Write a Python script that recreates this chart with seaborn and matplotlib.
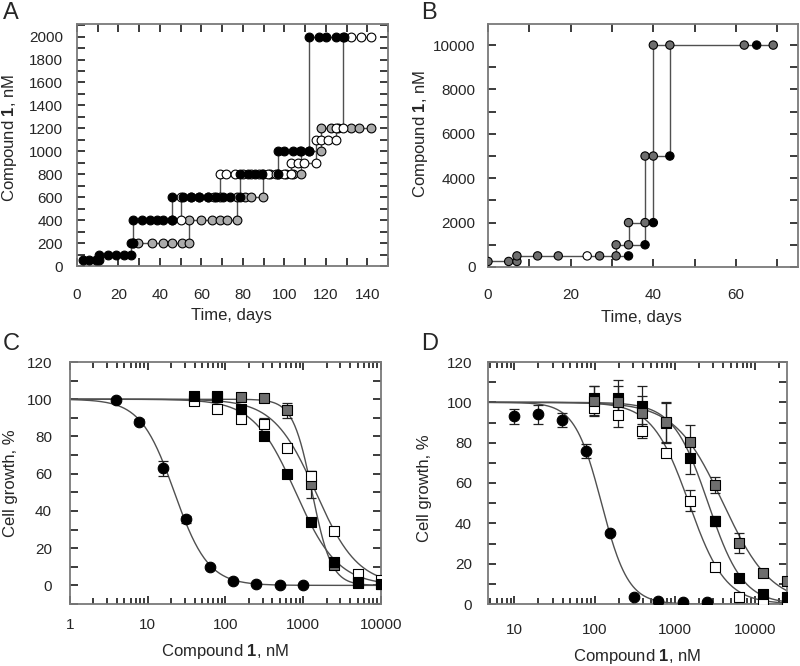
import numpy as np
import matplotlib
matplotlib.use("Agg")
import matplotlib.pyplot as plt
import matplotlib.ticker as mticker
import seaborn as sns

# ------------------------------------------------------------------ #
# Panel A: dose escalation, three cultures (black / white / grey)
# ------------------------------------------------------------------ #
A_black_days = [3, 6, 9, 10.5, 10.5, 15, 19, 22.5, 26, 26, 27, 27, 31.5, 35, 38.5,
                41.5, 46, 46, 51, 55, 59, 63, 67, 70.5, 74, 78.5, 78.5, 82.5, 86,
                89, 97, 97, 100, 104, 107.5, 112, 112, 116.5, 120, 125, 129]
A_black_vals = [50, 50, 50, 50, 100, 100, 100, 100, 100, 200, 200, 400, 400, 400, 400,
                400, 400, 600, 600, 600, 600, 600, 600, 600, 600, 600, 800, 800, 800,
                800, 800, 1000, 1000, 1000, 1000, 1000, 2000, 2000, 2000, 2000, 2000]

A_white_days = [46, 50, 50, 55, 59, 63, 66, 68.8, 68.8, 72, 76, 80, 84, 88, 92, 96,
                100, 103.4, 103.4, 106.5, 109.7, 115.4, 115.4, 117.8, 121, 125, 125,
                128.5, 128.5, 132.2, 137.1, 141.9]
A_white_vals = [400, 400, 600, 600, 600, 600, 600, 600, 800, 800, 800, 800, 800, 800,
                800, 800, 800, 800, 900, 900, 900, 900, 1100, 1100, 1100, 1100, 1200,
                1200, 2000, 2000, 2000, 2000]

A_grey_days = [27, 29.5, 36, 41.5, 46, 50.5, 54, 54, 60, 65, 69, 72.5, 77, 77, 81, 84,
               89.7, 89.7, 93, 97, 101, 104, 108, 108, 112, 117.8, 117.8, 122.6, 126,
               132, 136, 142]
A_grey_vals = [200, 200, 200, 200, 200, 200, 200, 400, 400, 400, 400, 400, 400, 600,
               600, 600, 600, 800, 800, 800, 800, 800, 800, 1000, 1000, 1000, 1200,
               1200, 1200, 1200, 1200, 1200]

# ------------------------------------------------------------------ #
# Panel B: dose escalation, branching lineages
# ------------------------------------------------------------------ #
B_branch_days = [
    [0, 5, 7, 7, 12, 17, 24, 27, 31, 34],
    [31, 31, 34, 38],
    [34, 34, 38, 40],
    [38, 38, 38, 40, 44],
    [40, 40, 40, 44, 62, 65, 69],
    [44, 44],
]
B_branch_vals = [
    [250, 250, 250, 500, 500, 500, 500, 500, 500, 500],
    [500, 1000, 1000, 1000],
    [1000, 2000, 2000, 2000],
    [1000, 2000, 5000, 5000, 5000],
    [2000, 5000, 10000, 10000, 10000, 10000, 10000],
    [5000, 10000],
]
B_pt_days = [0, 5, 7, 7, 12, 17, 24, 27, 31, 31, 34, 34, 34, 38, 38, 38, 40, 40, 40,
             44, 44, 62, 65, 69]
B_pt_vals = [250, 250, 250, 500, 500, 500, 500, 500, 500, 1000, 500, 1000, 2000, 1000,
             2000, 5000, 5000, 2000, 10000, 5000, 10000, 10000, 10000, 10000]
B_pt_kind = ["g", "g", "g", "g", "g", "g", "w", "g", "g", "g", "k", "g", "g", "k",
             "g", "g", "g", "k", "g", "k", "g", "g", "k", "g"]

# ------------------------------------------------------------------ #
# Panel C: cell growth vs compound 1 (nM)
# ------------------------------------------------------------------ #
C_circ_conc = [3.9, 7.8, 15.6, 31.25, 62.5, 125, 250, 500, 1000]
C_circ_val = [99.5, 88, 63, 35.5, 10, 2.2, 0.8, 0.4, 0.3]
C_circ_err = [1, 1.5, 4, 2, 1, 0.5, 0.3, 0.3, 0.3]

C_sq_conc = [39, 78, 156, 312, 625, 1250, 2500, 5000, 10000]
C_blk_val = [102, 102, 94.5, 80.5, 59.6, 34.2, 12.7, 1.8, 0.5]
C_blk_err = [1.5, 1.5, 1.5, 1.5, 1.5, 1.5, 2, 1, 0.5]
C_wht_val = [99.3, 94.8, 89.4, 86.8, 73.9, 58.7, 29.2, 5.9, 3]
C_wht_err = [1, 1.5, 1.5, 3, 1.5, 3, 1.5, 1, 0.5]
C_gry_val = [100, 101, 101, 100.4, 94.1, 54.2, 10.7, 1.4, 0.5]
C_gry_err = [0, 0, 1, 1, 4, 7.5, 2, 1, 0.5]

# fitted curves (IC50 nM, Hill slope)
C_fit = {"circ": (22, 2.0), "blk": (800, 1.6), "wht": (1450, 1.6), "gry": (1300, 3.5)}

# ------------------------------------------------------------------ #
# Panel D
# ------------------------------------------------------------------ #
D_circ_conc = [9.77, 19.5, 39, 78, 156, 312, 625, 1250, 2500]
D_circ_val = [93, 94, 91.2, 75.8, 35.1, 3.5, 1.5, 1.0, 0.8]
D_circ_err = [3.5, 4.5, 3.5, 3.5, 1, 0.5, 0.3, 0.3, 0.3]

D_sq_conc = [97.7, 195, 390, 781, 1562, 3125, 6250, 12500, 25000]
D_blk_val = [102, 102, 98.2, 89.6, 72.2, 41.2, 13.1, 5, 3.5]
D_blk_err = [6, 9, 10, 10, 7.5, 2.5, 1.5, 1, 1]
D_gry_val = [100.9, 100, 94.9, 90.1, 80.5, 59, 30.1, 15.2, 11.5]
D_gry_err = [7, 8, 8, 10, 8.5, 4, 5, 2, 1.5]
D_wht_val = [97.2, 93.9, 85.6, 74.9, 51.3, 18.2, 3.3, 1.8, 1.5]
D_wht_err = [4, 6, 3.5, 1.5, 5, 1.5, 1, 0.5, 0.5]

D_fit = {"circ": (122, 2.6), "blk": (2600, 2.0), "wht": (1500, 1.9), "gry": (4000, 1.45)}

# ------------------------------------------------------------------ #
GREY_A = "#ababab"
GREY_D = "#6e6e6e"
LINE = "#505050"
SPINE = "#7a7a7a"

sns.set_theme(style="ticks")
plt.rcParams.update({
    "font.family": ["Liberation Sans", "DejaVu Sans"],
    "font.size": 11,
    "mathtext.fontset": "custom",
    "mathtext.rm": "Liberation Sans",
    "mathtext.bf": "Liberation Sans:bold",
    "axes.labelsize": 12,
    "xtick.labelsize": 11,
    "ytick.labelsize": 11,
})


def hill(x, ic50, h, top=100.0):
    return top / (1.0 + (x / ic50) ** h)


def style_axes(ax, xpad, ypad):
    for s in ax.spines.values():
        s.set_color(SPINE)
        s.set_linewidth(1.3)
    ax.tick_params(which="both", direction="in", top=True, right=True,
                   color="#1a1a1a", width=1.2, length=6)
    ax.tick_params(axis="x", which="both", pad=xpad)
    ax.tick_params(axis="y", which="both", pad=ypad)


def place_labels(ax, xl, yl):
    ax.xaxis.set_label_coords(*xl)
    ax.yaxis.set_label_coords(*yl)


def steps(ax, days, vals, fill, size=40):
    sns.lineplot(x=days, y=vals, sort=False, estimator=None, color=LINE,
                 linewidth=1, ax=ax, zorder=2)
    sns.scatterplot(x=days, y=vals, color=fill, edgecolor="black", linewidth=0.8,
                    s=size, ax=ax, zorder=3)


def dose_series(ax, conc, vals, err, fill, marker, size):
    ax.errorbar(conc, vals, yerr=err, fmt="none", ecolor="#222222", elinewidth=0.9,
                capsize=3.5, capthick=0.9, zorder=3)
    sns.scatterplot(x=conc, y=vals, color=fill, marker=marker, edgecolor="black",
                    linewidth=0.8, s=size, ax=ax, zorder=4)


def fit_curve(ax, x0, x1, ic50, h):
    xs = np.logspace(np.log10(x0), np.log10(x1), 300)
    sns.lineplot(x=xs, y=hill(xs, ic50, h), color=LINE, linewidth=1, ax=ax, zorder=2)


fig = plt.figure(figsize=(8, 6.66), dpi=100)
W, H = 800, 666
axA = fig.add_axes([77 / W, 1 - 266 / H, 311 / W, 242 / H])
axB = fig.add_axes([488 / W, 1 - 267 / H, 310 / W, 243 / H])
axC = fig.add_axes([70 / W, 1 - 604 / H, 311 / W, 242 / H])
axD = fig.add_axes([488 / W, 1 - 604 / H, 299 / W, 242 / H])

ylab = r"Compound $\mathbf{1}$, nM"

# ---- A ----
steps(axA, A_grey_days, A_grey_vals, GREY_A)
steps(axA, A_white_days, A_white_vals, "white")
steps(axA, A_black_days, A_black_vals, "black")
axA.set_xlim(0, 150)
axA.set_ylim(0, 2110)
axA.xaxis.set_major_locator(mticker.MultipleLocator(20))
axA.xaxis.set_minor_locator(mticker.MultipleLocator(10))
axA.yaxis.set_major_locator(mticker.MultipleLocator(200))
axA.yaxis.set_minor_locator(mticker.MultipleLocator(100))
style_axes(axA, 16, 10)
axA.set_xlabel("Time, days")
axA.set_ylabel(ylab)
place_labels(axA, (0.498, -0.174), (-0.187, 0.53))

# ---- B ----
for d, v in zip(B_branch_days, B_branch_vals):
    sns.lineplot(x=d, y=v, sort=False, estimator=None, color=LINE, linewidth=1,
                 ax=axB, zorder=2)
kind_col = {"g": GREY_D, "k": "black", "w": "white"}
sns.scatterplot(x=B_pt_days, y=B_pt_vals, c=[kind_col[k] for k in B_pt_kind],
                edgecolor="black", linewidth=0.8, s=36, ax=axB, zorder=3)
axB.set_xlim(0, 75)
axB.set_ylim(0, 10950)
axB.xaxis.set_major_locator(mticker.MultipleLocator(20))
axB.xaxis.set_minor_locator(mticker.MultipleLocator(10))
axB.yaxis.set_major_locator(mticker.MultipleLocator(2000))
axB.yaxis.set_minor_locator(mticker.MultipleLocator(1000))
style_axes(axB, 15, 9)
axB.set_xlabel("Time, days")
axB.set_ylabel(ylab)
place_labels(axB, (0.495, -0.177), (-0.187, 0.547))

# ---- C ----
for key in ["circ", "blk", "wht", "gry"]:
    fit_curve(axC, 1, 10000, *C_fit[key])
dose_series(axC, C_circ_conc, C_circ_val, C_circ_err, "black", "o", 58)
dose_series(axC, C_sq_conc, C_gry_val, C_gry_err, GREY_D, "s", 50)
dose_series(axC, C_sq_conc, C_wht_val, C_wht_err, "white", "s", 50)
dose_series(axC, C_sq_conc, C_blk_val, C_blk_err, "black", "s", 50)
axC.set_xscale("log")
axC.set_xlim(1, 10000)
axC.set_ylim(-10, 120)

# ---- D ----
for key in ["circ", "blk", "wht", "gry"]:
    fit_curve(axD, 4.7, 25000, *D_fit[key])
dose_series(axD, D_circ_conc, D_circ_val, D_circ_err, "black", "o", 58)
dose_series(axD, D_sq_conc, D_wht_val, D_wht_err, "white", "s", 50)
dose_series(axD, D_sq_conc, D_blk_val, D_blk_err, "black", "s", 50)
dose_series(axD, D_sq_conc, D_gry_val, D_gry_err, GREY_D, "s", 50)
axD.set_xscale("log")
axD.set_xlim(4.7, 25000)
axD.set_ylim(0, 120)

for ax, xp, yp, xl, yl in [(axC, 10, 13, (0.5, -0.157), (-0.168, 0.5)),
                           (axD, 13.5, 11.5, (0.5, -0.178), (-0.187, 0.48))]:
    ax.xaxis.set_major_locator(mticker.LogLocator(base=10))
    ax.xaxis.set_minor_locator(mticker.LogLocator(base=10, subs=np.arange(2, 10)))
    ax.xaxis.set_major_formatter(mticker.FuncFormatter(lambda v, p: f"{v:g}"))
    ax.xaxis.set_minor_formatter(mticker.NullFormatter())
    ax.yaxis.set_major_locator(mticker.MultipleLocator(20))
    ax.yaxis.set_minor_locator(mticker.MultipleLocator(10))
    style_axes(ax, xp, yp)
    ax.tick_params(axis="x", which="minor", length=4)
    ax.set_xlabel(ylab)
    ax.set_ylabel("Cell growth, %")
    place_labels(ax, xl, yl)

# panel letters
for lbl, x, y in [("A", 3, 2), ("B", 421, 2), ("C", 3, 333), ("D", 421, 333)]:
    fig.text(x / W, 1 - y / H, lbl, fontsize=17, ha="left", va="top")

fig.savefig("out.png", dpi=100)
plt.close(fig)
